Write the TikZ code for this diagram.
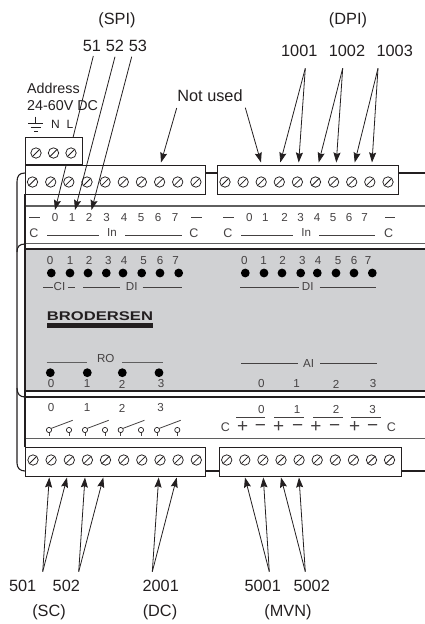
\documentclass[tikz,border=0pt]{standalone}
\usepackage{fontspec}
\setmainfont{Liberation Sans}
\usetikzlibrary{arrows.meta}
\definecolor{panelgray}{RGB}{208,209,211}
\definecolor{railgray}{RGB}{95,95,95}
\definecolor{inkc}{RGB}{35,31,32}
\newcommand{\fbig}{\fontsize{16.3}{18}\selectfont}
\newcommand{\fmed}{\fontsize{14.3}{16}\selectfont}
\newcommand{\fsml}{\fontsize{11.6}{13}\selectfont}
\tikzset{
  lbl/.style={inner sep=0pt,text=inkc,font=\fbig},
  midlbl/.style={inner sep=0pt,text=inkc,font=\fmed},
  sm/.style={inner sep=0pt,text=inkc!85!white,font=\fsml},
  pm/.style={inner sep=0pt,text=inkc!85!white,font=\fontsize{19}{20}\selectfont},
  leader/.style={draw=inkc,line width=0.8pt,-{Stealth[length=10pt,width=7pt,inset=1.5pt]}},
  plain/.style={draw=inkc,line width=0.75pt},
  termbox/.style={draw=inkc,line width=1.2pt,fill=white},
  rail/.style={draw=railgray,line width=1.6pt},
  body/.style={draw=inkc,line width=1.1pt},
  sline/.style={draw=inkc!85!white,line width=0.8pt},
  screw/.style={draw=inkc,line width=0.75pt,fill=white},
  led/.style={fill=black,draw=none},
  swc/.style={draw=inkc,line width=0.7pt,fill=white}
}
\newcommand{\screwat}[2]{%
  \draw[screw] (#1,#2) circle (5.2);
  \draw[screw] (#1-3.6,#2+3.6) -- (#1+3.6,#2-3.6);}
\newcommand{\ledat}[2]{\fill[led] (#1,#2) circle (4.4);}
\newcommand{\swat}[3]{% x1, x2, y
  \draw[sline] (#1,#3+2) -- (#1,#3+6);
  \draw[sline] (#2,#3+2) -- (#2,#3+6);
  \draw[swc] (#1,#3) circle (2.6);
  \draw[swc] (#2,#3) circle (2.6);
  \draw[sline] (#1+2.2,#3-1.6) -- (#1+23.7,#3-9.7);}
\begin{document}
\begin{tikzpicture}[x=1pt,y=-1pt]
\useasboundingbox (0,0) rectangle (425,624);
% panel and body
\fill[panelgray] (25,249) rectangle (425,391);
\draw[body] (25,249) -- (425,249);
\draw[body] (25,391) -- (425,391);
\draw[body] (25,397) -- (425,397);
\draw[rail] (25,206) -- (425,206);
\draw[rail] (25,243.5) -- (425,243.5);
\draw[draw=railgray,line width=1pt] (25,438) -- (425,438);
\draw[body] (25,194) -- (25,447);
\draw[body] (205,173) -- (425,173);
\draw[body] (205,471) -- (425,471);
% left bracket
\draw[body] (25,173) .. controls (19,173) and (17,176) .. (17,182) -- (17,463) .. controls (17,468) and (20,471) .. (25,471);
\draw[body] (25,244) .. controls (19,244) and (17,247) .. (17,252);
\draw[body] (17,388) .. controls (17,394) and (20,397) .. (25,397);
% named ends of the upper leaders
\coordinate (s51) at (93.3,56);   \coordinate (t51) at (55,210);
\coordinate (s52) at (115,56.7);  \coordinate (t52) at (75,210);
\coordinate (s53) at (131.7,56.7);\coordinate (t53) at (91.5,210);
% terminal boxes
\node[termbox,minimum width=180pt,minimum height=29pt,inner sep=0pt,anchor=north west] (tbUL) at (25,165) {};
\node[termbox,minimum width=181pt,minimum height=29pt,inner sep=0pt,anchor=north west] (tbUR) at (216.5,165) {};
\node[termbox,minimum width=180pt,minimum height=28.5pt,inner sep=0pt,anchor=north west] (tbLL) at (25,447) {};
\node[termbox,minimum width=182pt,minimum height=28.5pt,inner sep=0pt,anchor=north west] (tbLR) at (218.5,447) {};
% screws
\foreach \x in {32.5,50.7,68.8,87,105.1,123.3,141.4,159.6,177.7,195.9} {\screwat{\x}{182}}
\foreach \x in {225,243.1,261.2,279.3,297.4,315.5,333.6,351.7,369.8,388} {\screwat{\x}{182}}
\foreach \x in {33,51.1,69.3,87.4,105.5,123.7,141.8,160,178.1,196.3} {\screwat{\x}{460}}
\foreach \x in {226.7,244.8,262.9,281,299.1,317.2,335.3,353.4,371.5,389.5} {\screwat{\x}{460}}
% leaders 52, 53 and 51 pass over the long box
\draw[leader] (s52) -- (t52);
\draw[leader] (s53) -- (t53);
\draw[leader] (s51) -- (t51);
\node[termbox,minimum width=57pt,minimum height=28pt,inner sep=0pt,anchor=north west] (tbTop) at (25,137) {};
\foreach \x in {36,53.5,71} {\screwat{\x}{153}}
\draw[termbox,fill=none] (25,165) -- (82,165);
% top labels
\node[lbl] (spi) at (117,20) {(SPI)};
\node[lbl] (dpi) at (348,20) {(DPI)};
\node[lbl] (n51) at (92,45.5) {51};
\node[lbl] (n52) at (115,45.5) {52};
\node[lbl] (n53) at (138,45.5) {53};
\node[lbl] (n1001) at (299.3,51) {1001};
\node[lbl] (n1002) at (347,51) {1002};
\node[lbl] (n1003) at (394.7,51) {1003};
\node[lbl] (notused) at (210,96) {Not used};
\node[midlbl,anchor=west] (addr) at (27,88) {Address};
\node[midlbl,anchor=west] (volt) at (27,106) {24-60V DC};
\node[midlbl,font=\fontsize{12}{13}\selectfont] (lN) at (55.5,124) {N};
\node[midlbl,font=\fontsize{12}{13}\selectfont] (lL) at (70,124) {L};
% ground
\draw[plain] (35.5,116.7) -- (35.5,123.3);
\draw[plain] (28.3,123.3) -- (42.7,123.3);
\draw[plain] (30.7,127) -- (40.7,127);
\draw[plain] (34.3,131) -- (38.3,131);
% Not used / DPI arrows
\coordinate (sNU1) at (176.7,108); \coordinate (tNU1) at (161,162.5);
\coordinate (sNU2) at (245.3,107.7); \coordinate (tNU2) at (261,162.5);
\draw[leader] (sNU1) -- (tNU1);
\draw[leader] (sNU2) -- (tNU2);
\coordinate (s1001) at (305.3,68.3); \coordinate (a1) at (280.3,162.5); \coordinate (a2) at (298.7,162.5);
\coordinate (s1002) at (342.7,68.3); \coordinate (a3) at (318.7,162.5); \coordinate (a4) at (336.3,162.5);
\coordinate (s1003) at (378,68.3);   \coordinate (a5) at (354.7,162.5); \coordinate (a6) at (372,162.5);
\draw[leader] (s1001) -- (a1); \draw[leader] (s1001) -- (a2);
\draw[leader] (s1002) -- (a3); \draw[leader] (s1002) -- (a4);
\draw[leader] (s1003) -- (a5); \draw[leader] (s1003) -- (a6);
% upper row labels left
\draw[sline] (29,217) -- (39.5,217);
\foreach \x/\t in {55/0,72/1,89/2,106.5/3,124/4,141/5,158/6,175/7} {\node[sm] at (\x,217.5) {\t};}
\draw[sline] (191,217) -- (202,217);
\node[sm,font=\fontsize{12.5}{13}\selectfont] (cA) at (34,233.5) {C};
\draw[sline] (47,235) -- (99,235);
\node[sm] (inA) at (112,233) {In};
\draw[sline] (125,235) -- (182,235);
\node[sm,font=\fontsize{12.5}{13}\selectfont] (cB) at (194,233.5) {C};
% upper row labels right
\draw[sline] (223,217) -- (233.5,217);
\foreach \x/\t in {249.3/0,265.3/1,284.7/2,300.7/3,317/4,333/5,349/6,364.7/7} {\node[sm] at (\x,217.5) {\t};}
\draw[sline] (385,217) -- (395,217);
\node[sm,font=\fontsize{12.5}{13}\selectfont] (cC) at (228,233.5) {C};
\draw[sline] (241,235) -- (293,235);
\node[sm] (inB) at (306.3,233) {In};
\draw[sline] (319.3,235) -- (375.3,235);
\node[sm,font=\fontsize{12.5}{13}\selectfont] (cD) at (388.7,233.5) {C};
% panel left
\foreach \x/\t in {50/0,70/1,89/2,108.3/3,124/4,143.7/5,160/6,175.7/7} {\node[sm] at (\x,260.7) {\t};}
\foreach \x in {51.3,70,88,106.3,123,141.7,160,178.7} {\ledat{\x}{273}}
\draw[sline] (43.3,287.5) -- (53,287.5);
\node[sm] (ci) at (59.5,287) {CI};
\draw[sline] (68,287.5) -- (75,287.5);
\draw[sline] (83,287.5) -- (120,287.5);
\node[sm] (diA) at (131.7,287) {DI};
\draw[sline] (142.7,287.5) -- (182.3,287.5);
\node[inner sep=0pt,text=inkc] (logo) at (100,316.3) {\resizebox{106pt}{8.8pt}{\bfseries BRODERSEN}};
\fill[inkc] (47,323.3) rectangle (153.3,327.7);
\draw[draw=railgray,line width=0.8pt] (46.7,362.7) -- (87.3,362.7);
\node[sm] (ro) at (105.7,359) {RO};
\draw[draw=railgray,line width=0.8pt] (122.3,362.7) -- (162.7,362.7);
\foreach \x in {50.3,87.3,122.3,159} {\ledat{\x}{372.7}}
\foreach \x/\t in {51/0,87/1,122/2,161/3} {\node[sm] at (\x,384) {\t};}
% panel right
\foreach \x/\t in {244.3/0,263.7/1,282.7/2,302.3/3,318/4,338/5,354/6,368/7} {\node[sm] at (\x,260.7) {\t};}
\foreach \x in {245.3,264,282,300.7,317.3,336,354,372.3} {\ledat{\x}{273}}
\draw[sline] (240.3,287.5) -- (298.7,287.5);
\node[sm] (diB) at (307.7,287) {DI};
\draw[sline] (319.7,287.5) -- (376.3,287.5);
\draw[sline] (241,363.7) -- (298,363.7);
\node[sm] (ai) at (308.7,363.5) {AI};
\draw[sline] (320,363.7) -- (377,363.7);
\foreach \x/\t in {261.3/0,296.7/1,336/2,373/3} {\node[sm] at (\x,384) {\t};}
% relay strip
\foreach \x/\t in {51/0,87/1,122/2,160.7/3} {\node[sm] at (\x,408) {\t};}
\swat{49}{69}{430}
\swat{85}{105}{430}
\swat{120.7}{141}{430}
\swat{157}{177.3}{430}
% analog strip
\foreach \x/\t in {261.3/0,297/1,336/2,372.7/3} {\node[sm] at (\x,409.5) {\t};}
\draw[sline] (236.3,417.7) -- (265.3,417.7);
\draw[sline] (274.3,417.7) -- (303.7,417.7);
\draw[sline] (313,417.7) -- (342.7,417.7);
\draw[sline] (351,417.7) -- (380.7,417.7);
\node[sm,font=\fontsize{12.5}{13}\selectfont] (cE) at (225.3,427) {C};
\foreach \x in {242.7,278.7,316,354.7} {\node[pm] at (\x,427.5) {+};}
\foreach \x in {260.3,297.7,334.7,372.7} {\node[pm] at (\x,427.5) {−};}
\node[sm,font=\fontsize{12.5}{13}\selectfont] (cF) at (391.3,427) {C};
% bottom arrows
\coordinate (s501) at (42.7,571.7);  \coordinate (b1) at (49.3,477.5); \coordinate (b2) at (67,477.5);
\coordinate (s502) at (78.7,571.7);  \coordinate (b3) at (85,477.5);   \coordinate (b4) at (103.3,477.5);
\coordinate (s2001) at (152.3,571.7);\coordinate (b5) at (158.7,477.5);\coordinate (b6) at (176.7,477.5);
\coordinate (s5001) at (269.3,571.7);\coordinate (b7) at (245,477.5);  \coordinate (b8) at (263.3,477.5);
\coordinate (s5002) at (305.3,571.7);\coordinate (b9) at (281,477.5);  \coordinate (b10) at (299,477.5);
\draw[leader] (s501) -- (b1); \draw[leader] (s501) -- (b2);
\draw[leader] (s502) -- (b3); \draw[leader] (s502) -- (b4);
\draw[leader] (s2001) -- (b5); \draw[leader] (s2001) -- (b6);
\draw[leader] (s5001) -- (b7); \draw[leader] (s5001) -- (b8);
\draw[leader] (s5002) -- (b9); \draw[leader] (s5002) -- (b10);
\node[lbl] (n501) at (22.7,585.7) {501};
\node[lbl] (n502) at (66.3,585.7) {502};
\node[lbl] (n2001) at (160.7,585.7) {2001};
\node[lbl] (n5001) at (262.7,585.7) {5001};
\node[lbl] (n5002) at (311.7,585.7) {5002};
\node[lbl] (sc) at (49,612.3) {(SC)};
\node[lbl] (dc) at (160,612.3) {(DC)};
\node[lbl] (mvn) at (288,612.3) {(MVN)};
\end{tikzpicture}
\end{document}
